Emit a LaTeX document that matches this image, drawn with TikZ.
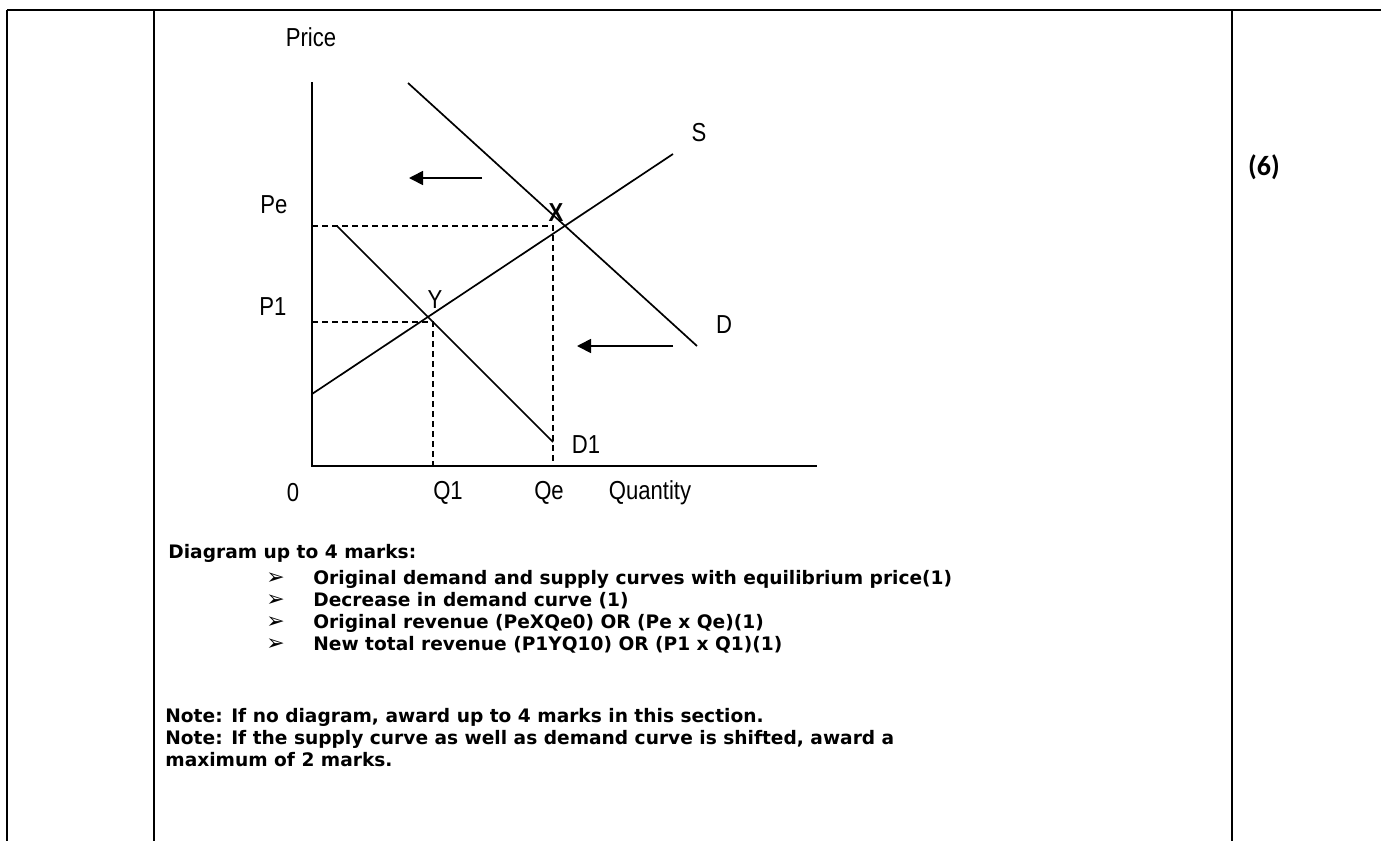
\documentclass[tikz,border=0pt]{standalone}
\usepackage{fontspec}
\setmainfont{DejaVu Sans}
\newfontfamily\grafont[FakeStretch=0.85]{Liberation Sans}
\newfontfamily\markfont{Carlito}
\usetikzlibrary{arrows.meta}

\begin{document}
\begin{tikzpicture}[x=0.5pt,y=-0.5pt,
		rule/.style={line width=1.3pt},
		axis/.style={line width=1pt},
		curve/.style={line width=0.85pt},
		guide/.style={line width=0.8pt, dash pattern=on 3pt off 2pt},
		shiftarrow/.style={line width=0.85pt, -{Triangle[length=7pt,width=7pt]}},
		glabel/.style={font=\grafont\fontsize{13}{15}\selectfont, inner sep=0pt},
		body/.style={font=\bfseries\fontsize{9.3}{11}\selectfont, inner sep=0pt, anchor=base west},
		bullet/.style={font=\fontsize{11}{12}\selectfont, inner sep=0pt, anchor=base west}
	]
		\useasboundingbox (0,0) rectangle (1381,841);
		% table frame
		\coordinate (tl) at (7,10);
		\coordinate (tr) at (1381,10);
		\draw[rule] (tl) -- (tr);
		\draw[rule] (tl) -- (7,841);
		\draw[rule] (154,10) -- (154,841);
		\draw[rule] (1232,10) -- (1232,841);
		\node[font=\markfont\bfseries\fontsize{14}{16}\selectfont] (marks) at (1264,167) {(6)};

		% axes
		\coordinate (o) at (312,466);
		\coordinate (ytop) at (312,82);
		\coordinate (xend) at (817,466);
		\draw[axis] (ytop) -- (o) -- (xend);

		% curves
		\coordinate (s0) at (312,394);
		\coordinate (s1) at (673,154);
		\coordinate (d0) at (408,83);
		\coordinate (d1) at (697,346);
		\coordinate (dn0) at (337,226);
		\coordinate (dn1) at (553,442);
		\draw[curve] (s0) -- (s1);
		\draw[curve] (d0) -- (d1);
		\draw[curve] (dn0) -- (dn1);

		% equilibrium guides
		\coordinate (pe) at (312,226);
		\coordinate (pex) at (553,226);
		\coordinate (qe) at (553,466);
		\coordinate (p1) at (312,322);
		\coordinate (p1x) at (433,322);
		\coordinate (q1) at (433,466);
		\draw[guide] (pe) -- (pex) -- (qe);
		\draw[guide] (p1) -- (p1x) -- (q1);

		% shift arrows
		\coordinate (ua) at (482,178);
		\coordinate (ub) at (409,178);
		\coordinate (la) at (673,346);
		\coordinate (lb) at (577,346);
		\draw[shiftarrow] (ua) -- (ub);
		\draw[shiftarrow] (la) -- (lb);

		% labels
		\node[glabel] (price) at (311,37) {Price};
		\node[glabel] (pelab) at (274,205) {Pe};
		\node[glabel] (p1lab) at (273,307) {P1};
		\node[glabel] (zero) at (293,493) {0};
		\node[glabel] (q1lab) at (448,493) {Q1};
		\node[glabel] (qelab) at (549,493) {Qe};
		\node[glabel] (qty) at (650,493) {Quantity};
		\node[glabel] (d1lab) at (586,445) {D1};
		\node[glabel] (slab) at (699,133) {S};
		\node[glabel] (dlab) at (724,325) {D};
		\node[glabel, font=\grafont\bfseries\fontsize{13}{15}\selectfont] (xlab) at (556,213) {X};
		\node[glabel] (ylab) at (435,300) {Y};

		% marking notes
		\node[body] (head) at (168,558) {Diagram up to 4 marks:};
		\node[bullet] (b1) at (266,584) {➢};
		\node[body] (t1) at (313,584) {Original demand and supply curves with equilibrium price(1)};
		\node[bullet] (b2) at (266,606) {➢};
		\node[body] (t2) at (313,606) {Decrease in demand curve (1)};
		\node[bullet] (b3) at (266,628) {➢};
		\node[body] (t3) at (313,628) {Original revenue (PeXQe0) OR (Pe x Qe)(1)};
		\node[bullet] (b4) at (266,650) {➢};
		\node[body] (t4) at (313,650) {New total revenue (P1YQ10) OR (P1 x Q1)(1)};
		\node[body] (n1) at (165,722) {Note: If no diagram, award up to 4 marks in this section.};
		\node[body] (n2) at (165,744) {Note: If the supply curve as well as demand curve is shifted, award a};
		\node[body] (n3) at (165,766) {maximum of 2 marks.};
	\end{tikzpicture}
\end{document}
